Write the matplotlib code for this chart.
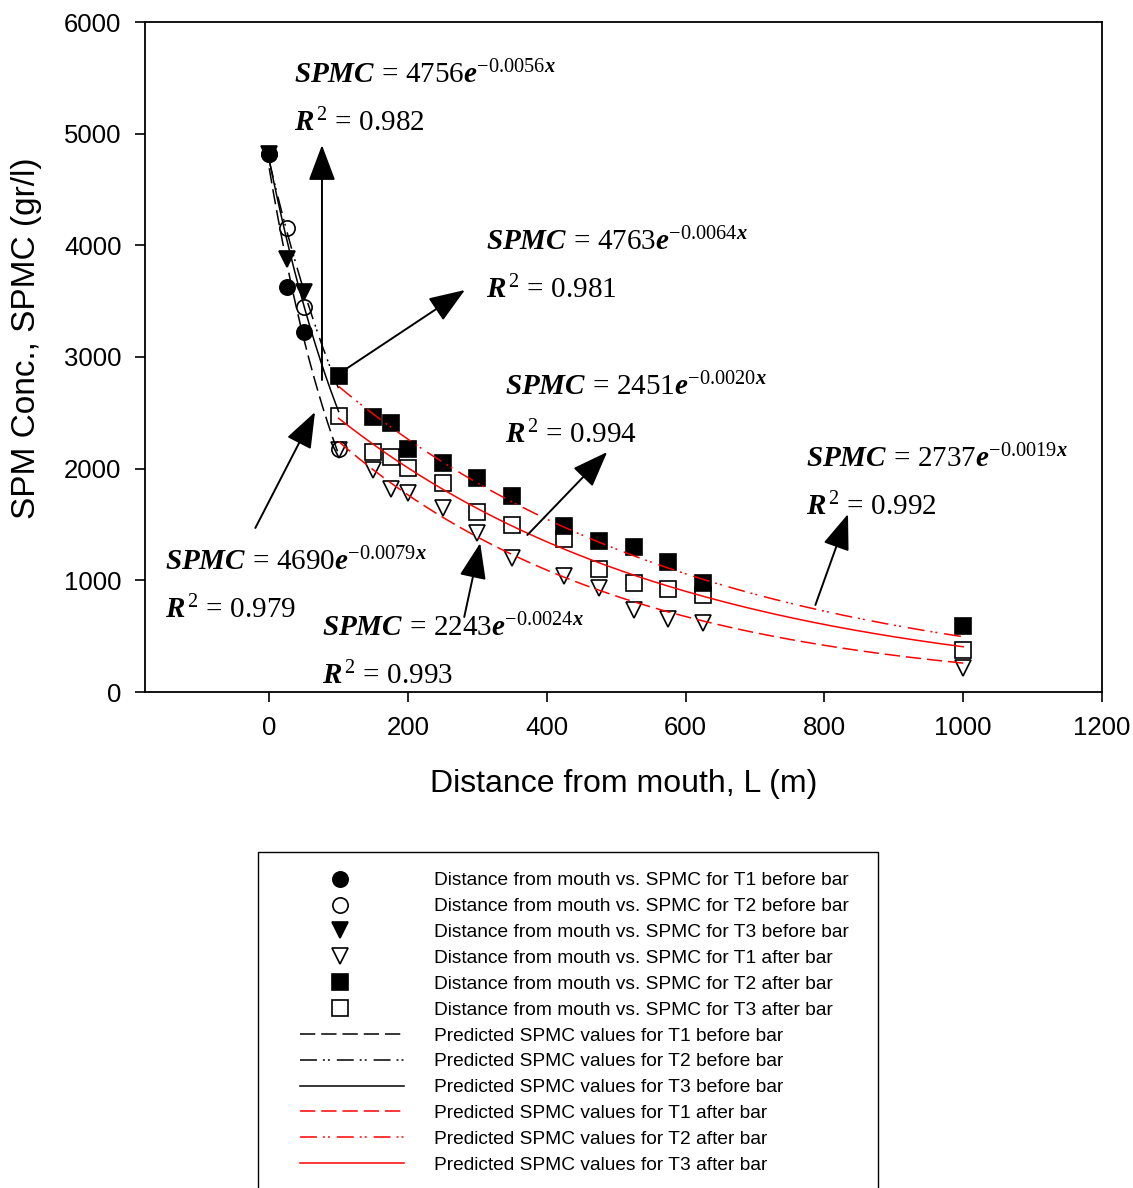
import numpy as np
import matplotlib
matplotlib.use("Agg")
import matplotlib.pyplot as plt
from matplotlib.lines import Line2D
from matplotlib.patches import Rectangle
from matplotlib.legend_handler import HandlerLine2D

plt.rcParams["font.family"] = ["Liberation Sans", "DejaVu Sans"]
plt.rcParams["mathtext.fontset"] = "custom"
plt.rcParams["mathtext.rm"] = "Liberation Serif"
plt.rcParams["mathtext.it"] = "Liberation Serif:italic"
plt.rcParams["mathtext.bf"] = "Liberation Serif:bold"
plt.rcParams["mathtext.bfit"] = "Liberation Serif:italic:bold"
plt.rcParams["lines.scale_dashes"] = False

# ---- measured data -------------------------------------------------------
x_before = [0, 25, 50, 100]
t1_before = [4820, 3629, 3226]
t2_before = [4820, 4155, 3450, 2175]
t3_before = [4820, 3878, 3585]

x_after = [100, 150, 175, 200, 250, 300, 350, 425, 475, 525, 575, 625, 1000]
t1_after = [2167, 1988, 1818, 1782, 1648, 1424, 1200, 1039, 931, 734, 654, 618, 215]
t2_after = [2830, 2463, 2409, 2176, 2051, 1916, 1755, 1487, 1352, 1298, 1164, 976, 591]
t3_after = [2472, 2149, 2104, 2006, 1872, 1612, 1496, 1370, 1101, 976, 922, 869, 376]

# ---- exponential fits  SPMC = a * exp(-k * x) ---------------------------
before_a = [4690, 4756, 4763]      # T1, T2, T3 before bar
before_k = [0.0079, 0.0056, 0.0064]
before_r2 = [0.979, 0.982, 0.981]

after_a = [2243, 2737, 2451]       # T1, T2, T3 after bar
after_k = [0.0024, 0.0019, 0.0020]
after_r2 = [0.993, 0.992, 0.994]
after_origin = 100                 # after-bar fits measured from the bar position

x_ticks = [0, 200, 400, 600, 800, 1000, 1200]
y_ticks = [0, 1000, 2000, 3000, 4000, 5000, 6000]

W, H = 1133, 1188
fig = plt.figure(figsize=(W / 100, H / 100), dpi=100)
ax = fig.add_axes([145 / W, 1 - 692 / H, 957 / W, 670 / H])

ms = 11
mew = 1.2
ax.plot(x_before[:3], t1_before, ls="none", marker="o", ms=ms, mfc="k", mec="k", mew=mew, zorder=3)
ax.plot(x_before, t2_before, ls="none", marker="o", ms=ms, mfc="none", mec="k", mew=mew, zorder=3)
ax.plot(x_before[:3], t3_before, ls="none", marker="v", ms=ms, mfc="k", mec="k", mew=mew, zorder=3)
ax.plot(x_after, t1_after, ls="none", marker="v", ms=ms, mfc="none", mec="k", mew=mew, zorder=3)
ax.plot(x_after, t2_after, ls="none", marker="s", ms=ms, mfc="k", mec="k", mew=mew, zorder=3)
ax.plot(x_after, t3_after, ls="none", marker="s", ms=ms, mfc="none", mec="k", mew=mew, zorder=3)

dash = (11, 4.3)
dashdotdot = (12.2, 4.3, 1.4, 2.2, 1.4, 5.0)
styles = [dict(dashes=dash), dict(dashes=dashdotdot), dict(ls="-")]
lw = 1.1

xb = np.linspace(0, 100, 300)
for a, k, st in zip(before_a, before_k, styles):
    ax.plot(xb, a * np.exp(-k * xb), color="k", lw=lw, zorder=4, **st)

xa = np.linspace(100, 1000, 600)
for a, k, st in zip(after_a, after_k, styles):
    ax.plot(xa, a * np.exp(-k * (xa - after_origin)), color="#ff0000", lw=lw, zorder=4, **st)

ax.set_xlim(-179, 1200)
ax.set_ylim(0, 6000)
ax.set_xticks(x_ticks)
ax.set_yticks(y_ticks)
ax.tick_params(direction="out", length=7, width=1.2, labelsize=18.5, pad=10)
for sp in ax.spines.values():
    sp.set_linewidth(1.3)

ax.set_xlabel("Distance from mouth, L (m)", fontsize=23)
ax.xaxis.set_label_coords(0.5, (692 - 784) / 670)
ax.xaxis.label.set_va("center")
ax.set_ylabel("SPM Conc., SPMC (gr/l)", fontsize=24)
ax.yaxis.set_label_coords((27 - 145) / 957, (692 - 338) / 670)
ax.yaxis.label.set_va("center")


def eq_text(a, k):
    return r"$\mathbfit{SPMC}\,=\,%d\mathbfit{e}^{-%.4f\mathbfit{x}}$" % (a, k)


def r2_text(r):
    return r"$\mathbfit{R}^{\,2}\,=\,%.3f$" % r


# equation labels: (fit, anchor of text, arrow tail, arrow head) in data units
eqs = [
    (before_a[1], before_k[1], before_r2[1], (35, 5454), (76, 2794), (76, 4898)),
    (before_a[2], before_k[2], before_r2[2], (313, 3958), (102, 2857), (282, 3600)),
    (after_a[2], after_k[2], after_r2[2], (340, 2660), (372, 1406), (487, 2149)),
    (after_a[1], after_k[1], after_r2[1], (774, 2015), (787, 779), (834, 1594)),
    (before_a[0], before_k[0], before_r2[0], (-150, 1092), (-20, 1469), (66, 2507)),
    (after_a[0], after_k[0], after_r2[0], (76, 500), (281, 672), (304, 1334)),
]
line_gap = 430
for a, k, r, (tx, ty), tail, head in eqs:
    ax.text(tx, ty, eq_text(a, k), fontsize=21, ha="left", va="baseline", zorder=6)
    ax.text(tx, ty - line_gap, r2_text(r), fontsize=21, ha="left", va="baseline", zorder=6)
    ax.annotate("", xy=head, xytext=tail,
                arrowprops=dict(arrowstyle="-|>,head_length=1.6,head_width=0.6",
                                mutation_scale=14, color="k", lw=1.4,
                                shrinkA=0, shrinkB=0), zorder=5)

# ---- legend ---------------------------------------------------------------
marker_specs = [("o", "k"), ("o", "none"), ("v", "k"), ("v", "none"), ("s", "k"), ("s", "none")]
marker_handles = [Line2D([], [], ls="none", marker=m, ms=ms, mfc=fc, mec="k", mew=mew)
                  for m, fc in marker_specs]
line_handles = [Line2D([], [], color=col, lw=lw, **st)
                for col in ["k", "#ff0000"] for st in styles]
handles = marker_handles + line_handles
labels = [
    "Distance from mouth vs. SPMC for T1 before bar",
    "Distance from mouth vs. SPMC for T2 before bar",
    "Distance from mouth vs. SPMC for T3 before bar",
    "Distance from mouth vs. SPMC for T1 after bar",
    "Distance from mouth vs. SPMC for T2 after bar",
    "Distance from mouth vs. SPMC for T3 after bar",
    "Predicted SPMC values for T1 before bar",
    "Predicted SPMC values for T2 before bar",
    "Predicted SPMC values for T3 before bar",
    "Predicted SPMC values for T1 after bar",
    "Predicted SPMC values for T2 after bar",
    "Predicted SPMC values for T3 after bar",
]
shifted = HandlerLine2D(xpad=-1.25)
fig.legend(handles, labels, loc="upper left", bbox_to_anchor=(300 / W, (H - 872) / H),
           frameon=False, fontsize=13.8, handlelength=5.4, handletextpad=1.6,
           labelspacing=0.44, borderpad=0, borderaxespad=0, numpoints=1,
           handler_map={h: shifted for h in marker_handles})
fig.add_artist(Rectangle((258 / W, -0.05), 620 / W, (H - 852) / H + 0.05,
                         transform=fig.transFigure, fill=False, lw=1.0, ec="k"))

fig.savefig("out.png", dpi=100)
